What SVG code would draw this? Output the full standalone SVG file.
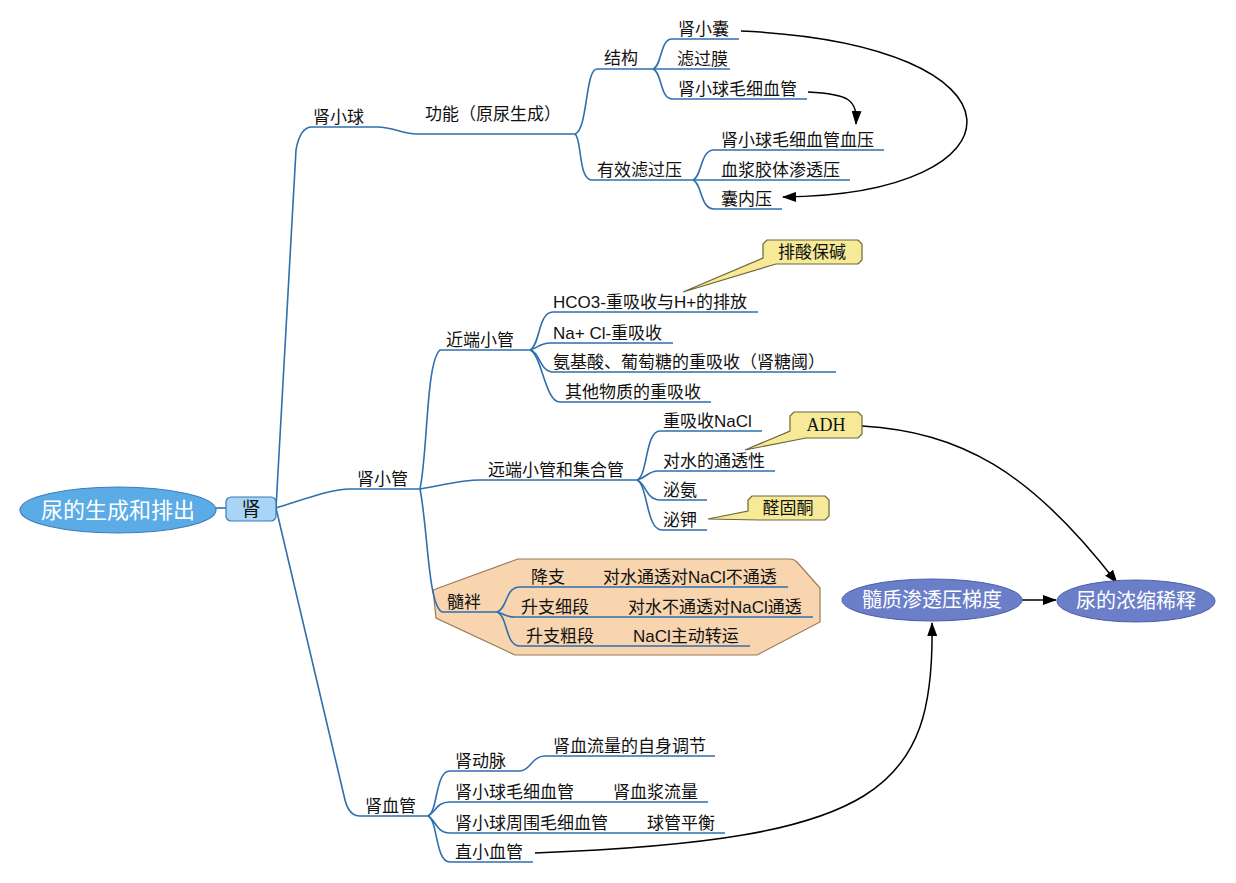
<svg xmlns="http://www.w3.org/2000/svg" width="1236" height="883" viewBox="0 0 1236 883">
<defs>
<style>
.t{font-family:"Liberation Sans","Noto Sans CJK SC",sans-serif;font-size:17px;fill:#111}
.b{fill:none;stroke:#2e6fad;stroke-width:1.6}
.a{fill:none;stroke:#000;stroke-width:1.5;marker-end:url(#ah)}
.call{fill:#f6ea98;stroke:#6d6636;stroke-width:1.2}
.ct{font-family:"Noto Sans CJK SC",sans-serif;font-size:17px;fill:#111}
.ell{fill:#6b7fc9;stroke:#4a5ea8;stroke-width:1}
.et{font-family:"Noto Sans CJK SC",sans-serif;font-size:20px;fill:#fff;text-anchor:middle}
</style>
<marker id="ah" markerWidth="14" markerHeight="10" refX="13" refY="5" orient="auto" markerUnits="userSpaceOnUse">
<path d="M0,0 L14,5 L0,10 Z" fill="#000"/>
</marker>
</defs>
<rect width="1236" height="883" fill="#fff"/>

<g id="loop-bg">
<path d="M433,590 L518,559 L790,559 Q794,559 797,562 L820,588 L820,622 L757,655 L515,655 L436,618 Z" fill="#f8d5ae" stroke="#9a7b5a" stroke-width="1.2"/>
</g>

<g id="branches">
<path class="b" d="M215,508 L226,508"/>
<path class="b" d="M276,508 L296,150 Q300,127 312,127 L377,127 C395,127 400,134 417,134 L575,134"/>
<path class="b" d="M575,134 C588,130 585,69 597,69 L653,69"/>
<path class="b" d="M575,134 C582,138 578,180 592,180 L693,180"/>
<path class="b" d="M653,69 C662,66 660,39 672,39 L739,39"/>
<path class="b" d="M653,69 L730,69"/>
<path class="b" d="M653,69 C662,72 660,99 672,99 L807,99"/>
<path class="b" d="M693,180 C702,177 700,150 714,150 L884,150"/>
<path class="b" d="M693,180 L850,180"/>
<path class="b" d="M693,180 C702,183 700,209 714,209 L782,209"/>

<path class="b" d="M276,508 C300,501 330,489 350,489 L420,489"/>
<path class="b" d="M420,489 C428,450 426,362 440,350 L530,350"/>
<path class="b" d="M530,350 C540,346 538,312 553,312 L758,312"/>
<path class="b" d="M530,350 C538,348 540,343 550,343 L673,343"/>
<path class="b" d="M530,350 C540,352 540,372 553,372 L836,372"/>
<path class="b" d="M530,350 C542,355 545,402 560,402 L711,402"/>
<path class="b" d="M420,489 C440,486 460,480 480,480 L637,480"/>
<path class="b" d="M637,480 C648,476 645,431 660,431 L762,431"/>
<path class="b" d="M637,480 C646,478 648,471 658,471 L775,471"/>
<path class="b" d="M637,480 C646,483 646,500 660,500 L707,500"/>
<path class="b" d="M637,480 C648,485 646,530 662,530 L707,530"/>
<path class="b" d="M420,489 C428,530 428,605 442,612 L497,612"/>
<path class="b" d="M497,612 C508,608 505,587 520,587 L788,587"/>
<path class="b" d="M497,612 C505,614 505,617 515,617 L813,617"/>
<path class="b" d="M497,612 C508,616 505,646 520,646 L750,646"/>

<path class="b" d="M276,508 L345,800 Q349,816 360,816 L428,816"/>
<path class="b" d="M428,816 C438,812 435,771 450,771 L520,771 C530,771 532,756 545,756 L715,756"/>
<path class="b" d="M428,816 C436,812 436,802 450,802 L708,802"/>
<path class="b" d="M428,816 C436,820 436,833 450,833 L725,833"/>
<path class="b" d="M428,816 C438,820 435,862 450,862 L533,862"/>
</g>

<g id="connectors">
<path class="a" d="M741,31 C1040,45 1030,195 783,197"/>
<path class="a" d="M808,92 C850,94 857,100 856,124"/>
<path class="a" d="M862,426 C960,432 1030,470 1117,583"/>
<path class="a" d="M1022,600 L1056,600"/>
<path class="a" d="M535,853 C880,840 935,790 932,623"/>
</g>

<g id="root">
<ellipse cx="118" cy="510" rx="98" ry="23" fill="#5aabe6" stroke="#3a7fc0" stroke-width="1.2"/>
<text x="118" y="518" font-family="Noto Sans CJK SC,sans-serif" font-size="22" fill="#fff" text-anchor="middle">尿的生成和排出</text>
</g>
<g id="shen">
<rect x="226" y="497" width="50" height="24" rx="5" fill="#a8d4f6" stroke="#3a78b5" stroke-width="1.2"/>
<text x="251" y="516" font-family="Noto Sans CJK SC,sans-serif" font-size="19" fill="#111" text-anchor="middle">肾</text>
</g>

<g id="n-shenxiaoqiu"><text class="t" x="313" y="123">肾小球</text></g>
<g id="n-gongneng"><text class="t" x="425" y="120">功能（原尿生成）</text></g>
<g id="n-jiegou"><text class="t" x="604" y="64">结构</text></g>
<g id="n-youxiao"><text class="t" x="597" y="176">有效滤过压</text></g>
<g id="n-shenxiaonang"><text class="t" x="678" y="35">肾小囊</text></g>
<g id="n-lvguomo"><text class="t" x="677" y="65">滤过膜</text></g>
<g id="n-maoxi"><text class="t" x="678" y="95">肾小球毛细血管</text></g>
<g id="n-xueya"><text class="t" x="721" y="146">肾小球毛细血管血压</text></g>
<g id="n-jiaoti"><text class="t" x="721" y="176">血浆胶体渗透压</text></g>
<g id="n-nangneiya"><text class="t" x="721" y="205">囊内压</text></g>

<g id="n-shenxiaoguan"><text class="t" x="357" y="485">肾小管</text></g>
<g id="n-jinduan"><text class="t" x="446" y="346">近端小管</text></g>
<g id="n-hco3"><text class="t" x="553" y="308">HCO3-重吸收与H+的排放</text></g>
<g id="n-nacl"><text class="t" x="553" y="339">Na+ Cl-重吸收</text></g>
<g id="n-anjisuan"><text class="t" x="553" y="368">氨基酸、葡萄糖的重吸收（肾糖阈）</text></g>
<g id="n-qita"><text class="t" x="565" y="398">其他物质的重吸收</text></g>
<g id="n-yuanduan"><text class="t" x="488" y="476">远端小管和集合管</text></g>
<g id="n-chongxishou"><text class="t" x="663" y="427">重吸收NaCl</text></g>
<g id="n-tongtou"><text class="t" x="663" y="467">对水的通透性</text></g>
<g id="n-mian"><text class="t" x="663" y="496">泌氨</text></g>
<g id="n-mijia"><text class="t" x="663" y="526">泌钾</text></g>
<g id="n-suipan"><text class="t" x="447" y="608">髓袢</text></g>
<g id="n-jiangzhi"><text class="t" x="531" y="583">降支</text><text class="t" x="603" y="583">对水通透对NaCl不通透</text></g>
<g id="n-xiduan"><text class="t" x="521" y="613">升支细段</text><text class="t" x="628" y="613">对水不通透对NaCl通透</text></g>
<g id="n-cuduan"><text class="t" x="526" y="642">升支粗段</text><text class="t" x="633" y="642">NaCl主动转运</text></g>

<g id="n-shenxueguan"><text class="t" x="365" y="812">肾血管</text></g>
<g id="n-dongmai"><text class="t" x="455" y="767">肾动脉</text><text class="t" x="553" y="752">肾血流量的自身调节</text></g>
<g id="n-maoxi2"><text class="t" x="455" y="798">肾小球毛细血管</text><text class="t" x="613" y="798">肾血浆流量</text></g>
<g id="n-zhouwei"><text class="t" x="455" y="829">肾小球周围毛细血管</text><text class="t" x="647" y="829">球管平衡</text></g>
<g id="n-zhixiao"><text class="t" x="455" y="858">直小血管</text></g>

<g id="c-paisuan">
<path class="call" d="M767,240 L858,240 L862,244 L862,260 L858,264 L776,264 L683,292 L763,258 L763,244 Z"/>
<text class="ct" x="812" y="258" text-anchor="middle">排酸保碱</text>
</g>
<g id="c-adh">
<path class="call" d="M794,412 L858,412 L862,416 L862,434 L858,438 L806,438 L745,450 L790,431 L790,416 Z"/>
<text x="826" y="431" font-family="Liberation Serif,serif" font-size="18" fill="#111" text-anchor="middle">ADH</text>
</g>
<g id="c-quangutong">
<path class="call" d="M752,496 L825,496 L829,500 L829,516 L825,520 L760,520 L708,519 L748,511 L748,500 Z"/>
<text class="ct" x="788" y="514" text-anchor="middle">醛固酮</text>
</g>

<g id="e-suizhi">
<ellipse class="ell" cx="932" cy="600" rx="90" ry="21"/>
<text class="et" x="932" y="607">髓质渗透压梯度</text>
</g>
<g id="e-nongsuo">
<ellipse class="ell" cx="1136" cy="601" rx="79" ry="21"/>
<text class="et" x="1136" y="608">尿的浓缩稀释</text>
</g>
</svg>
